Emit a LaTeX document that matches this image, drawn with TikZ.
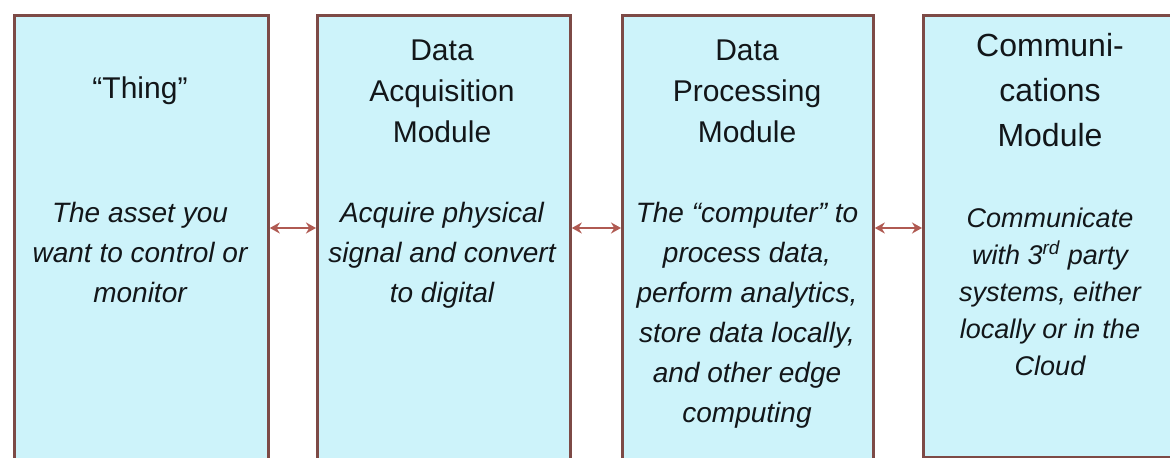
\documentclass[tikz,border=0pt]{standalone}
\usepackage{fontspec}
\setmainfont{Liberation Sans}
\usepackage{xcolor}
\usepackage{tikz}
\usetikzlibrary{arrows.meta,positioning}
\definecolor{cyanpale}{HTML}{CDF3FA}
\definecolor{rimbrown}{HTML}{7D4A46}
\definecolor{linkred}{HTML}{B05A52}
\definecolor{ink}{HTML}{121619}
\tikzset{
  >={Stealth[length=5pt,width=5.5pt]},
  module/.style={draw=rimbrown, fill=cyanpale, line width=1.4pt, anchor=north west,
    minimum height=240pt, inner sep=0pt},
  head/.style={align=center, text=ink, inner sep=0pt, font=\fontsize{15}{20.5}\selectfont},
  blurb/.style={align=center, text=ink, inner sep=0pt, anchor=north,
    font=\fontsize{14}{20}\selectfont\itshape},
  link/.style={<->, line width=1.3pt, color=linkred}
}
\begin{document}
\begin{tikzpicture}[x=.5pt,y=-.5pt]
  \useasboundingbox (0,0) rectangle (1170,458);
  \fill[white] (0,0) rectangle (1170,458);
  \clip (0,0) rectangle (1170,458);

  \node[module,minimum width=127pt] (thing) at (13,14) {};
  \node[module,minimum width=126.5pt] (acq) at (316,14) {};
  \node[module,minimum width=125.5pt] (proc) at (621,14) {};
  \node[module,minimum width=130pt,minimum height=221pt] (comm) at (922,14) {};

  \node[head] (thingT) at (140,91) {“Thing”};
  \node[head] (acqT) at (442,91) {Data\\Acquisition\\Module};
  \node[head] (procT) at (747,91) {Data\\Processing\\Module};
  \node[head,font=\fontsize{16}{22.5}\selectfont] (commT) at (1050,90) {Communi-\\cations\\Module};

  \node[blurb] (thingB) at (140,202) {The asset you\\want to control or\\monitor};
  \node[blurb] (acqB) at (442,202) {Acquire physical\\signal and convert\\to digital};
  \node[blurb] (procB) at (747,202) {The “computer” to\\process data,\\perform analytics,\\store data locally,\\and other edge\\computing};
  \node[blurb,font=\fontsize{13.5}{18.5}\selectfont\itshape] (commB) at (1050,208)
    {Communicate\\with 3\textsuperscript{rd} party\\systems, either\\locally or in the\\Cloud};

  \coordinate (ay) at (0,228);
  \foreach \a/\b in {thing/acq,acq/proc,proc/comm}{
    \draw[link] (\a.east |- ay) -- (\b.west |- ay);
  }
\end{tikzpicture}
\end{document}
